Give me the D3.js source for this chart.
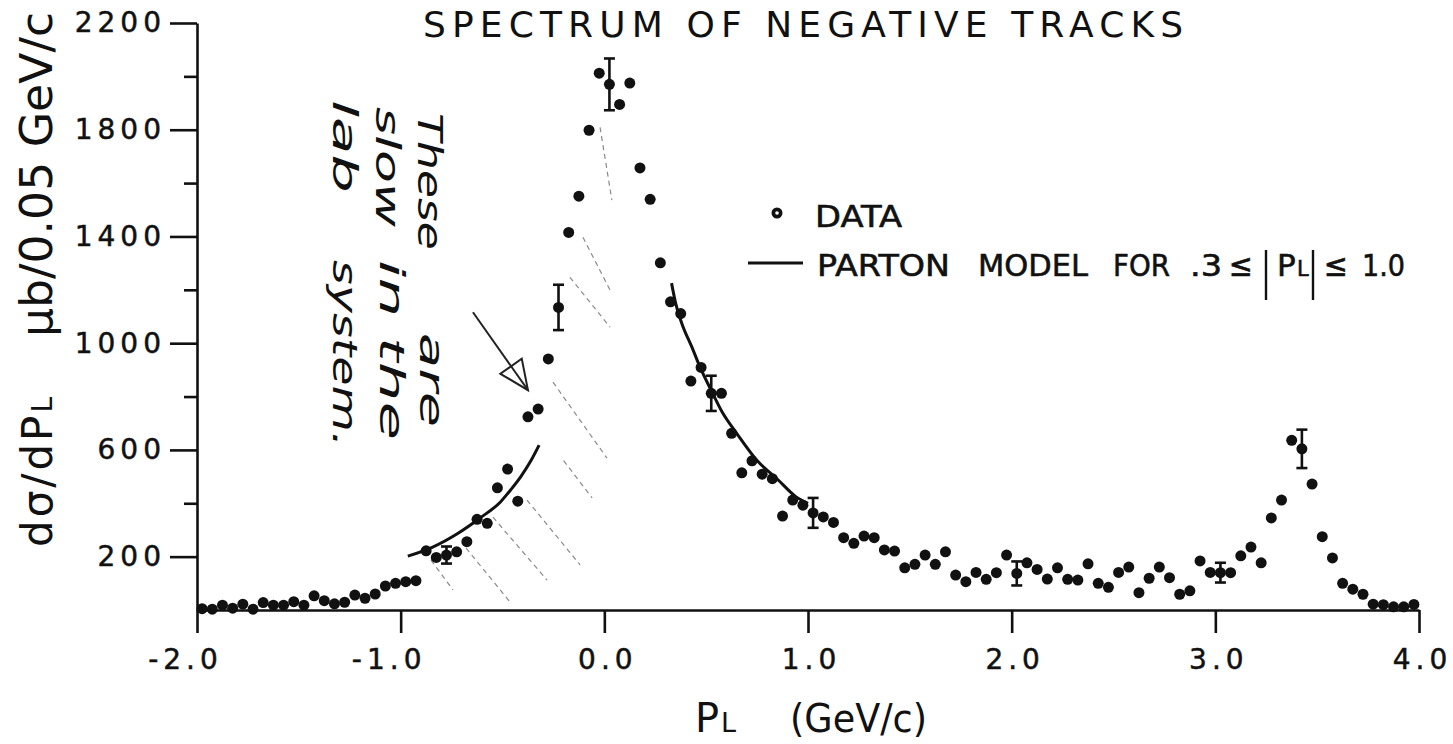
<!DOCTYPE html>
<html><head><meta charset="utf-8">
<script src="https://cdn.jsdelivr.net/npm/d3@7"></script>
<style>
body{margin:0;background:#fff}
svg{display:block}
text{font-family:"DejaVu Sans",sans-serif;fill:#111}
</style>
</head><body>
<svg id="chart" width="1453" height="744"></svg>
<script>
// ---- data ----
const pL = [
 -1.975,-1.925,-1.875,-1.825,-1.775,-1.725,-1.675,-1.625,-1.575,-1.525,
 -1.475,-1.425,-1.375,-1.325,-1.275,-1.225,-1.175,-1.125,-1.075,-1.025,
 -0.975,-0.925,-0.875,-0.825,-0.775,-0.725,-0.675,-0.625,-0.575,-0.525,
 -0.475,-0.425,-0.375,-0.325,-0.275,-0.225,-0.175,-0.125,-0.075,-0.025,
  0.025, 0.075, 0.125, 0.175, 0.225, 0.275, 0.325, 0.375, 0.425, 0.475,
  0.525, 0.575, 0.625, 0.675, 0.725, 0.775, 0.825, 0.875, 0.925, 0.975,
  1.025, 1.075, 1.125, 1.175, 1.225, 1.275, 1.325, 1.375, 1.425, 1.475,
  1.525, 1.575, 1.625, 1.675, 1.725, 1.775, 1.825, 1.875, 1.925, 1.975,
  2.025, 2.075, 2.125, 2.175, 2.225, 2.275, 2.325, 2.375, 2.425, 2.475,
  2.525, 2.575, 2.625, 2.675, 2.725, 2.775, 2.825, 2.875, 2.925, 2.975,
  3.025, 3.075, 3.125, 3.175, 3.225, 3.275, 3.325, 3.375, 3.425, 3.475,
  3.525, 3.575, 3.625, 3.675, 3.725, 3.775, 3.825, 3.875, 3.925, 3.975
];
const dSigma = [
  5,3,18,7,22,3,28,18,18,31,
  18,53,35,23,29,56,44,60,90,100,
  106,110,222,197,206,218,256,340,325,458,
  528,408,724,753,941,1134,1415,1551,1798,2012,
  1970,1895,1975,1657,1539,1301,1155,1111,858,909,
  812,812,662,514,559,509,492,352,412,393,
  364,349,328,271,250,277,271,225,221,158,
  171,206,171,218,131,106,141,115,140,206,
  137,177,152,116,158,115,112,173,100,85,
  141,161,65,119,161,121,59,72,184,141,
  140,140,203,236,177,345,412,636,604,472,
  275,195,100,78,59,22,20,12,12,21
];
const errPL   = [-0.775,-0.225,0.025,0.525,1.025,2.025,3.025,3.425];
const errSize = [32,85,97,66,56,45,37,72];

const modelLeftPL  = [-0.965,-0.84,-0.72,-0.61,-0.51,-0.46,-0.41,-0.36,-0.32];
const modelLeftVal = [202,237,287,345,405,450,500,560,618];
const modelRightPL  = [0.33,0.35,0.38,0.43,0.47,0.53,0.58,0.65,0.75,0.85,0.94,1.0];
const modelRightVal = [1225,1150,1075,985,910,815,740,662,560,490,425,400];

const xTickValues = [-2,-1,0,1,2,3,4];
const xTickLabels = ["-2.0","-1.0","0.0","1.0","2.0","3.0","4.0"];
const yMajorTicks = [200,600,1000,1400,1800,2200];
const yTickLabels = ["200","600","1000","1400","1800","2200"];
const yMinorTicks = [400,800,1200,1600,2000];

// hand-drawn annotation (data coordinates)
const arrowFrom = [-0.645,1116];
const arrowTo   = [-0.375,824];
const hatchFrom = [[-0.851,187],[-0.679,232],[-0.547,348],[-0.380,412],[-0.252,854],[-0.169,1247],[-0.105,1397],[-0.021,1809],[-0.20,560]];
const hatchTo   = [[-0.743,75],[-0.463,30],[-0.281,112],[-0.119,169],[0.013,569],[0.028,1060],[0.028,1199],[0.037,1536],[-0.06,420]];

// ---- drawing ----
const svg = d3.select("#chart");
const x = d3.scaleLinear().domain([-2,4]).range([197,1419]);
const y = d3.scaleLinear().domain([0,2200]).range([610,23]);
const ink = "#111";

// hatching
svg.append("g").selectAll("line").data(hatchFrom).join("line")
  .attr("x1",d=>x(d[0])).attr("y1",d=>y(d[1]))
  .attr("x2",(d,i)=>x(hatchTo[i][0])).attr("y2",(d,i)=>y(hatchTo[i][1]))
  .attr("stroke","#8a8a8a").attr("stroke-width",1.2).attr("stroke-dasharray","5,4");

// axes
const xAxis = d3.axisBottom(x).tickValues(xTickValues)
  .tickFormat((d,i)=>xTickLabels[i]).tickSize(23).tickSizeOuter(0).tickPadding(16);
const gx = svg.append("g").attr("transform",`translate(0,${y(0)})`).call(xAxis);
gx.select(".domain").attr("stroke",ink).attr("stroke-width",2.6);
gx.selectAll(".tick line").attr("stroke",ink).attr("stroke-width",2.6);
gx.selectAll(".tick text").attr("font-size",28).attr("letter-spacing",5)
  .attr("font-family","DejaVu Sans").attr("fill",ink)
  .attr("stroke",ink).attr("stroke-width",0.5)
  .attr("dx",d=>d<0?-12:3);

const yAxis = d3.axisLeft(y).tickValues(yMajorTicks)
  .tickFormat((d,i)=>yTickLabels[i]).tickSize(27).tickSizeOuter(0).tickPadding(4);
const gy = svg.append("g").attr("transform",`translate(${x(-2)},0)`).call(yAxis);
gy.select(".domain").attr("stroke",ink).attr("stroke-width",2.6);
gy.selectAll(".tick line").attr("stroke",ink).attr("stroke-width",2.6);
gy.selectAll(".tick text").attr("font-size",28).attr("letter-spacing",5)
  .attr("font-family","DejaVu Sans").attr("fill",ink)
  .attr("stroke",ink).attr("stroke-width",0.5);

const yAxisMinor = d3.axisLeft(y).tickValues(yMinorTicks).tickSize(13).tickSizeOuter(0).tickFormat("");
const gym = svg.append("g").attr("transform",`translate(${x(-2)},0)`).call(yAxisMinor);
gym.select(".domain").remove();
gym.selectAll(".tick line").attr("stroke",ink).attr("stroke-width",2.6);

// parton model curves
const line = d3.line().x(d=>x(d[0])).y(d=>y(d[1])).curve(d3.curveMonotoneX);
svg.append("path").datum(modelLeftPL.map((v,i)=>[v,modelLeftVal[i]]))
  .attr("d",line).attr("fill","none").attr("stroke",ink).attr("stroke-width",3);
svg.append("path").datum(modelRightPL.map((v,i)=>[v,modelRightVal[i]]))
  .attr("d",line).attr("fill","none").attr("stroke",ink).attr("stroke-width",3);

// error bars
const eb = svg.append("g").selectAll("g").data(errPL).join("g");
eb.each(function(v,i){
  const k = pL.findIndex(p=>Math.abs(p-v)<1e-6);
  const c = dSigma[k], e = errSize[i];
  const g = d3.select(this);
  g.append("line").attr("x1",x(v)).attr("x2",x(v)).attr("y1",y(c+e)).attr("y2",y(c-e))
    .attr("stroke",ink).attr("stroke-width",2.6);
  [c+e,c-e].forEach(t=>g.append("line").attr("x1",x(v)-5.5).attr("x2",x(v)+5.5)
    .attr("y1",y(t)).attr("y2",y(t)).attr("stroke",ink).attr("stroke-width",2.6));
});

// data points
svg.append("g").selectAll("circle").data(pL).join("circle")
  .attr("cx",d=>x(d)).attr("cy",(d,i)=>y(dSigma[i])).attr("r",5.5).attr("fill",ink);

// legend
svg.append("circle").attr("cx",777).attr("cy",213).attr("r",5.5).attr("fill",ink);
svg.append("circle").attr("cx",777).attr("cy",213).attr("r",1.8).attr("fill","#fff");
const lg = svg.append("g").attr("font-size",31).attr("stroke",ink).attr("stroke-width",0.6);
lg.append("text").attr("x",815).attr("y",227).attr("textLength",87).attr("lengthAdjust","spacingAndGlyphs").text("DATA");
svg.append("line").attr("x1",748).attr("x2",803).attr("y1",263).attr("y2",263)
  .attr("stroke",ink).attr("stroke-width",3);
[["PARTON",817,133],["MODEL",978,110],["FOR",1113,57],[".3",1190,32],["≤",1229,24],["≤",1324,24],["1.0",1362,43]]
  .forEach(([t,px,len])=>lg.append("text").attr("x",px).attr("y",276)
    .attr("textLength",len).attr("lengthAdjust","spacingAndGlyphs").text(t));
lg.append("text").attr("x",1277).attr("y",276).text("P");
lg.append("text").attr("x",1297).attr("y",276).attr("font-size",21).text("L");
[1266,1313].forEach(px=>svg.append("line").attr("x1",px).attr("x2",px).attr("y1",250).attr("y2",300)
  .attr("stroke",ink).attr("stroke-width",2.4));

// title (kept fully inside the picture, as high as possible)
svg.append("text").attr("x",423).attr("y",37).attr("font-size",36)
  .attr("textLength",760).attr("lengthAdjust","spacing").text("SPECTRUM OF NEGATIVE TRACKS");

// y axis title
svg.append("text").attr("transform","translate(52,547) rotate(-90)").attr("font-size",42)
  .attr("letter-spacing",3)
  .call(t=>{t.append("tspan").text("dσ/dP");t.append("tspan").attr("font-size",28).text("L");});
svg.append("text").attr("transform","translate(52,337) rotate(-90)").attr("font-size",44)
  .attr("textLength",325).attr("lengthAdjust","spacingAndGlyphs").text("μb/0.05 GeV/c");

// x axis title
svg.append("text").attr("x",695).attr("y",732).attr("font-size",40).text("P");
svg.append("text").attr("x",721).attr("y",732).attr("font-size",27).text("L");
svg.append("text").attr("x",790).attr("y",732).attr("font-size",39)
  .attr("textLength",137).attr("lengthAdjust","spacingAndGlyphs").text("(GeV/c)");

// handwritten note
const hw = svg.append("g").attr("font-family","DejaVu Serif").attr("font-style","italic")
  .attr("font-size",34);
[["These",418,113,137],["are",420,333,94],["slow",376,107,120],["in the",380,260,180],
 ["lab",333,100,93],["system.",333,260,187]].forEach(([t,bx,sy,len])=>
  hw.append("text").attr("transform",`translate(${bx},${sy}) rotate(90)`)
    .attr("textLength",len).attr("lengthAdjust","spacingAndGlyphs")
    .attr("fill","#222").text(t));

// arrow
const ax0=x(arrowFrom[0]), ay0=y(arrowFrom[1]), ax1=x(arrowTo[0]), ay1=y(arrowTo[1]);
svg.append("line").attr("x1",ax0).attr("y1",ay0).attr("x2",ax1).attr("y2",ay1)
  .attr("stroke","#222").attr("stroke-width",2);
const ang = Math.atan2(ay1-ay0, ax1-ax0);
const w1 = [ax1-32*Math.cos(ang-0.42), ay1-32*Math.sin(ang-0.42)];
const w2 = [ax1-32*Math.cos(ang+0.42), ay1-32*Math.sin(ang+0.42)];
svg.append("path").attr("d",`M${w1}L${ax1},${ay1}L${w2}Z`)
  .attr("fill","none").attr("stroke","#222").attr("stroke-width",2);
</script>
</body></html>
